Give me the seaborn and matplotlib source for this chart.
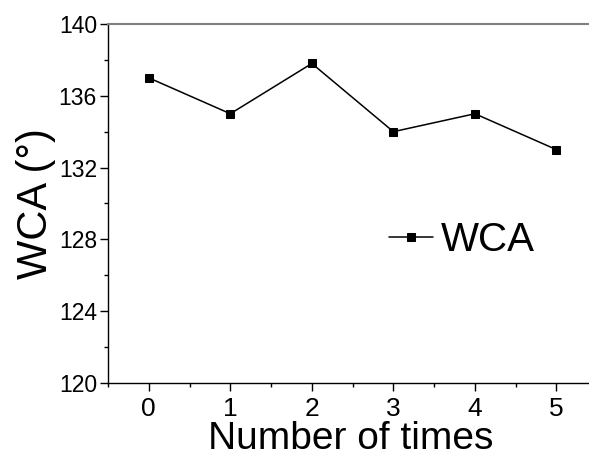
import matplotlib
matplotlib.use('Agg')
import matplotlib.pyplot as plt
import seaborn as sns
import pandas as pd
from matplotlib.ticker import MultipleLocator

# dados
vezes = [0, 1, 2, 3, 4, 5]
wca = [137.0, 135.0, 137.8, 134.0, 135.0, 133.0]

df = pd.DataFrame({'vezes': vezes, 'WCA': wca})

sns.set_style('white')
plt.rcParams['font.family'] = ['Liberation Sans', 'DejaVu Sans']
plt.rcParams['text.color'] = 'black'
plt.rcParams['axes.labelcolor'] = 'black'
plt.rcParams['xtick.color'] = 'black'
plt.rcParams['ytick.color'] = 'black'

fig = plt.figure(figsize=(5.89, 4.63), dpi=100)
ax = fig.add_axes([0.1834, 0.1728, 0.825, 0.7754])

sns.lineplot(data=df, x='vezes', y='WCA', marker='s', color='black',
             linewidth=1.1, markersize=5.5, markeredgecolor='black',
             label='WCA', ax=ax)

ax.set_xlim(-0.5, 5.46)
ax.set_ylim(120, 140)
ax.xaxis.set_major_locator(MultipleLocator(1))
ax.xaxis.set_minor_locator(MultipleLocator(0.5))
ax.yaxis.set_major_locator(MultipleLocator(4))
ax.yaxis.set_minor_locator(MultipleLocator(2))
ax.tick_params(which='major', direction='out', length=6, width=1,
               color='black', labelcolor='black', bottom=True, left=True, pad=3)
ax.tick_params(which='minor', direction='out', length=3, width=1,
               color='black', bottom=True, left=True)
ax.tick_params(axis='x', labelsize=19, pad=4)
ax.tick_params(axis='y', labelsize=16.5, pad=2)

for s in ['left', 'bottom']:
    ax.spines[s].set_color('black')
    ax.spines[s].set_linewidth(1)
ax.spines['top'].set_color('#808080')
ax.spines['top'].set_linewidth(1.5)
ax.spines['right'].set_visible(False)

ax.set_xlabel('Number of times', fontsize=28, labelpad=0, color='black')
ax.set_ylabel('WCA (°)', fontsize=30, labelpad=2, color='black')

leg = ax.legend(loc='center', bbox_to_anchor=(0.728, 0.398), frameon=False,
                fontsize=29, handlelength=1.1, handletextpad=0.18,
                borderpad=0.2)
for t in leg.get_texts():
    t.set_color('black')

fig.savefig('out.png', dpi=100)
